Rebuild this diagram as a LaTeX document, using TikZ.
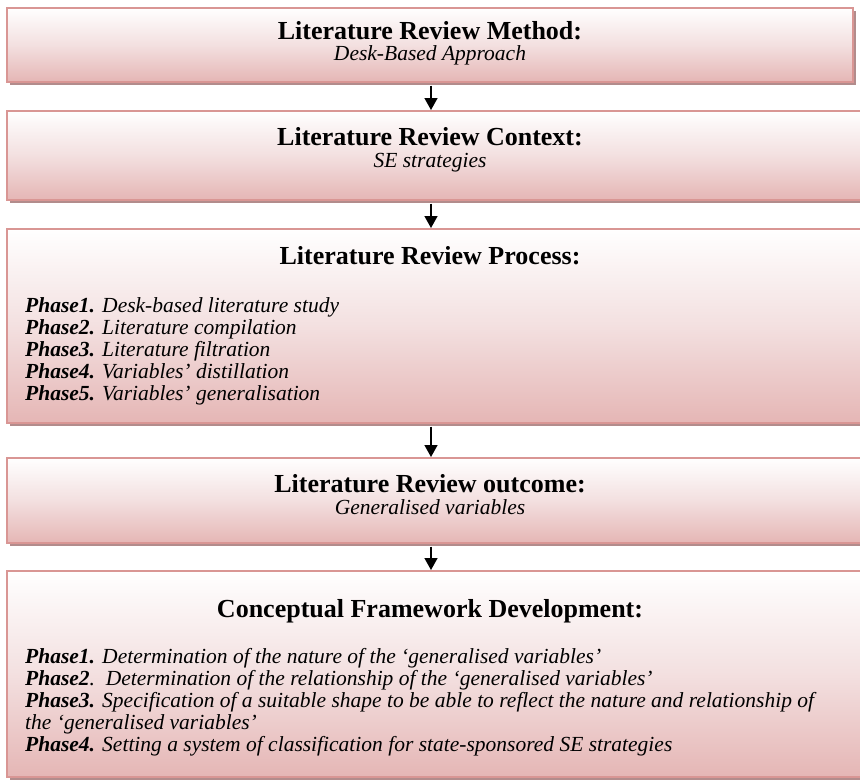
\documentclass[tikz,border=0pt]{standalone}
\usepackage{fontspec}
\setmainfont{Liberation Serif}
\usetikzlibrary{shadows,arrows.meta}
\definecolor{bordc}{RGB}{217,150,148}
\definecolor{shadc}{RGB}{178,140,140}
\definecolor{botc}{RGB}{229,182,181}
\definecolor{midc}{RGB}{243,224,224}
\begin{document}
\begin{tikzpicture}[x=1pt,y=-1pt,
  box/.style={draw=bordc, line width=1.5pt, top color=white, bottom color=botc, middle color=midc,
    anchor=north west, inner sep=0pt,
    drop shadow={shadow xshift=3pt, shadow yshift=-3pt, fill=shadc, opacity=1}},
  ttl/.style={anchor=base, inner sep=0pt, font=\fontsize{26}{30}\selectfont\bfseries},
  sub/.style={anchor=base, inner sep=0pt, font=\fontsize{21.5}{24}\selectfont\itshape},
  line/.style={anchor=base west, inner sep=0pt, font=\fontsize{21.5}{24}\selectfont\itshape},
  arr/.style={line width=1.5pt, -{Triangle[length=12pt,width=13pt]}, shorten <=3pt}]
\path[use as bounding box] (0,0) rectangle (860,780);
\clip (0,0) rectangle (860,780);

\node[box, minimum width=846pt, minimum height=74pt] (b1) at (6,7) {};
\node[box, minimum width=864pt, minimum height=89pt] (b2) at (6,110) {};
\node[box, minimum width=864pt, minimum height=194pt] (b3) at (6,228) {};
\node[box, minimum width=864pt, minimum height=85pt] (b4) at (6,457) {};
\node[box, minimum width=864pt, minimum height=206pt] (b5) at (6,570) {};

\coordinate (ax) at (431,0);
\draw[arr] (b1.south -| ax) -- (b2.north -| ax);
\draw[arr] (b2.south -| ax) -- (b3.north -| ax);
\draw[arr] (b3.south -| ax) -- (b4.north -| ax);
\draw[arr] (b4.south -| ax) -- (b5.north -| ax);

\node[ttl] (t1) at (430,39) {Literature Review Method:};
\node[sub] (s1) at (430,60) {Desk-Based Approach};
\node[ttl] (t2) at (430,145) {Literature Review Context:};
\node[sub] (s2) at (430,167) {SE strategies};
\node[ttl] (t3) at (430,264) {Literature Review Process:};
\node[line] (p1) at (25,312) {\textbf{Phase1.} Desk-based literature study};
\node[line] (p2) at (25,334) {\textbf{Phase2.} Literature compilation};
\node[line] (p3) at (25,356) {\textbf{Phase3.} Literature filtration};
\node[line] (p4) at (25,378) {\textbf{Phase4.} Variables’ distillation};
\node[line] (p5) at (25,400) {\textbf{Phase5.} Variables’ generalisation};
\node[ttl] (t4) at (430,492) {Literature Review outcome:};
\node[sub] (s4) at (430,514) {Generalised variables};
\node[ttl] (t5) at (430,617) {Conceptual Framework Development:};
\node[line] (q1) at (25,663) {\textbf{Phase1.} Determination of the nature of the ‘generalised variables’};
\node[line] (q2) at (25,685) {\textbf{Phase2}.\ \ Determination of the relationship of the ‘generalised variables’};
\node[line] (q3) at (25,707) {\textbf{Phase3.} Specification of a suitable shape to be able to reflect the nature and relationship of};
\node[line] (q4) at (25,729) {the ‘generalised variables’};
\node[line] (q5) at (25,751) {\textbf{Phase4.} Setting a system of classification for state-sponsored SE strategies};
\end{tikzpicture}
\end{document}
